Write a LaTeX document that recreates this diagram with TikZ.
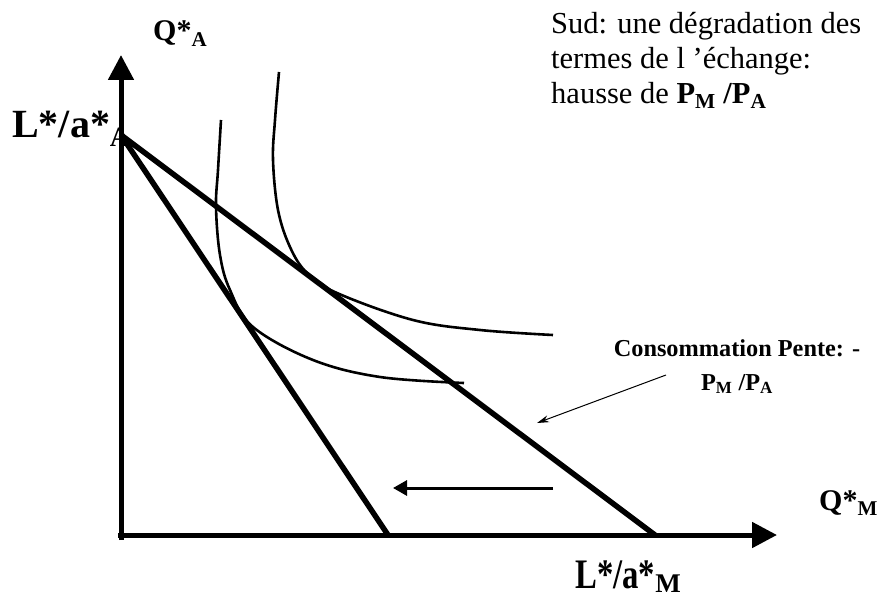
\documentclass[tikz,border=0pt]{standalone}
\usepackage{fontspec}
\setmainfont{Liberation Serif}
\usetikzlibrary{arrows.meta, positioning}

\begin{document}
\begin{tikzpicture}[x=1pt, y=-1pt,
    axis/.style={draw=black, line width=5pt, -{Triangle[length=25pt, width=25pt]}},
    budget/.style={draw=black, line width=5.5pt},
    indiff/.style={draw=black, line width=2.6pt},
    movearrow/.style={draw=black, line width=3pt, -{Triangle[length=14pt, width=15pt]}},
    note/.style={draw=black, line width=1pt, -{Stealth[length=12pt, width=7pt]}},
    biglabel/.style={font=\fontsize{40}{48}\selectfont\bfseries, inner sep=0pt},
    axlabel/.style={font=\fontsize{30}{36}\selectfont\bfseries, inner sep=0pt},
    txt/.style={font=\fontsize{30.5}{35}\selectfont, align=left, inner sep=0pt}
]
    \useasboundingbox (0,0) rectangle (888,599);

    % Axes
    \coordinate (O) at (121,535);
    \coordinate (Ytop) at (121,55);
    \coordinate (Xend) at (777,535);
    \draw[axis] (121,540) -- (Ytop);
    \draw[axis] (118,535) -- (Xend);

    % Intercepts
    \coordinate (LA) at (121,135);
    \coordinate (LM1) at (388,535);
    \coordinate (LM0) at (655,535);

    % Axis labels
    \node[axlabel, anchor=base west] (QA) at (153,41) {Q*\textsubscript{A}};
    \node[biglabel, anchor=base west] (LAlab) at (12,137) {L*/a*\textsubscript{A}};
    \node[axlabel, anchor=base west] (QM) at (819,510) {Q*\textsubscript{M}};
    \node[inner sep=0pt, anchor=base west] (LMlab) at (575,588)
        {\bfseries\scalebox{0.78}[1]{\fontsize{42}{48}\selectfont L*/a*}\raisebox{-4pt}{\fontsize{27}{30}\selectfont M}};

    % Budget lines
    \draw[budget] (LA) -- (LM0);
    \draw[budget] (LA) -- (LM1);

    % Indifference curves
    \draw[indiff] plot[smooth, tension=0.6] coordinates {(221,120) (218,170) (216,207) (220,255) (230,290) (253,327) (313,360) (380,377) (464,383)};
    \draw[indiff] plot[smooth, tension=0.6] coordinates {(279,72) (275,120) (273,160) (278,210) (290,247) (307,273) (337,293) (413,320) (480,330) (553,335)};

    % Shift of the budget line
    \coordinate (S0) at (553,488);
    \coordinate (S1) at (393,488);
    \draw[movearrow] (S0) -- (S1);

    % Texts
    \node[txt, anchor=north west] (sud) at (551,12) {Sud: une dégradation des\\termes de l ’échange:\\hausse de \textbf{P\textsubscript{M} /P\textsubscript{A}}};
    \node[font=\fontsize{24.3}{34}\selectfont\bfseries, align=center, inner sep=0pt, anchor=base] (cons) at (737,390) {Consommation Pente: -\\P\textsubscript{M} /P\textsubscript{A}};

    \coordinate (tail) at (666,375);
    \coordinate (head) at (537,423);
    \draw[note] (tail) -- (head);
\end{tikzpicture}
\end{document}
